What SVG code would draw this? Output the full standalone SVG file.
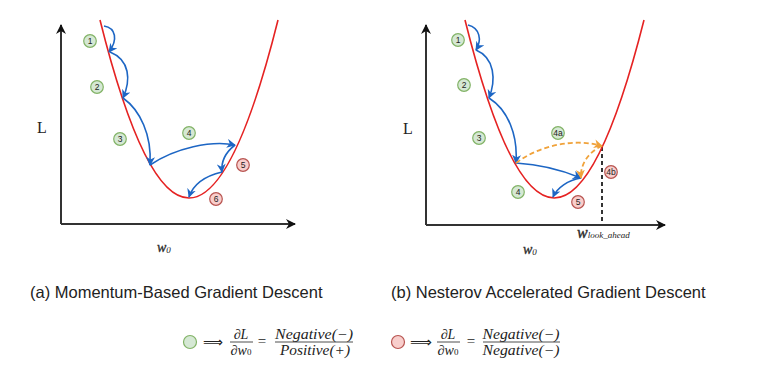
<svg xmlns="http://www.w3.org/2000/svg" width="758" height="366" viewBox="0 0 758 366">
<style>
.axis{fill:none;stroke:#333;stroke-width:2}
.curve{fill:none;stroke:#e52222;stroke-width:1.6}
.blue{fill:none;stroke:#1d66c4;stroke-width:1.6}
.orange{fill:none;stroke:#f0a23a;stroke-width:1.8;stroke-dasharray:5,3}
.g{fill:#d5e8d4;stroke:#82b366;stroke-width:1.2}
.r{fill:#f8cecc;stroke:#b85450;stroke-width:1.2}
.lbl{font-family:"Liberation Sans",Arial,sans-serif;font-size:8.5px;fill:#222;text-anchor:middle}
.serif{font-family:"Liberation Serif","Times New Roman",serif;fill:#222}
.cap{font-family:"Liberation Sans",Arial,sans-serif;font-size:16.5px;fill:#222}
.math{font-family:"Liberation Serif","Times New Roman",serif;font-style:italic;font-size:14px;fill:#222;text-anchor:middle}
</style>
<defs>
<marker id="ax" viewBox="0 0 10 10" refX="9" refY="5" markerWidth="10" markerHeight="10" markerUnits="userSpaceOnUse" orient="auto">
<path d="M0,0 L10,5 L0,10 L3,5 z" fill="#111"/>
</marker>
<marker id="ab" viewBox="0 0 10 10" refX="9" refY="5" markerWidth="9" markerHeight="9" markerUnits="userSpaceOnUse" orient="auto">
<path d="M0,0 L10,5 L0,10 L3,5 z" fill="#1d66c4"/>
</marker>
<marker id="ao" viewBox="0 0 10 10" refX="9" refY="5" markerWidth="9" markerHeight="9" markerUnits="userSpaceOnUse" orient="auto">
<path d="M0,0 L10,5 L0,10 L3,5 z" fill="#f0a23a"/>
</marker>
</defs>

<g id="panel-a">
<g id="axes-a">
<path class="axis" d="M61,224 L61,25" marker-end="url(#ax)"/>
<path class="axis" d="M61,224 L295,224" marker-end="url(#ax)"/>
<text class="serif" x="42" y="133" font-size="16" text-anchor="middle">L</text>
<text class="serif" x="157" y="252" font-size="14" font-style="italic" fill="#333" stroke="#333" stroke-width="0.3">w<tspan font-size="9" dy="1" stroke-width="0">0</tspan></text>
</g>
<path id="loss-a" class="curve" d="M100,20 Q189,376 278,20"/>
<g id="conn-a">
<path class="blue" d="M104,26 C116,28 118,40 109,52" marker-end="url(#ab)"/>
<path class="blue" d="M110,52 C130,60 131,80 123,98" marker-end="url(#ab)"/>
<path class="blue" d="M123,98 C140,110 152,135 150,165" marker-end="url(#ab)"/>
<path class="blue" d="M150,165 C175,148 212,140 235,145" marker-end="url(#ab)"/>
<path class="blue" d="M235,145 C226,152 221,162 222,172" marker-end="url(#ab)"/>
<path class="blue" d="M222,172 C205,176 193,185 189,197" marker-end="url(#ab)"/>
</g>
<g id="a1"><circle class="g" cx="90" cy="41" r="6.3"/><text class="lbl" x="90" y="44">1</text></g>
<g id="a2"><circle class="g" cx="97" cy="87" r="6.3"/><text class="lbl" x="97" y="90">2</text></g>
<g id="a3"><circle class="g" cx="120" cy="139" r="6.3"/><text class="lbl" x="120" y="142">3</text></g>
<g id="a4"><circle class="g" cx="189" cy="133" r="6.3"/><text class="lbl" x="189" y="136">4</text></g>
<g id="a5"><circle class="r" cx="243" cy="165" r="6.3"/><text class="lbl" x="243" y="168">5</text></g>
<g id="a6"><circle class="r" cx="216" cy="199" r="6.3"/><text class="lbl" x="216" y="202">6</text></g>
</g>

<g id="panel-b">
<g id="axes-b">
<path class="axis" d="M426,225 L426,25" marker-end="url(#ax)"/>
<path class="axis" d="M426,225 L665,225" marker-end="url(#ax)"/>
<path d="M602,147 L602,224" fill="none" stroke="#333" stroke-width="2" stroke-dasharray="4,3"/>
<text class="serif" x="408" y="134" font-size="16" text-anchor="middle">L</text>
<text class="serif" x="523" y="254" font-size="14" font-style="italic" fill="#333" stroke="#333" stroke-width="0.3">w<tspan font-size="9" dy="1" stroke-width="0">0</tspan></text>
<text class="serif" x="577" y="238" font-size="16" font-style="italic" fill="#333" stroke="#333" stroke-width="0.4">w<tspan font-size="9" stroke-width="0">look_ahead</tspan></text>
</g>
<path id="loss-b" class="curve" d="M465,20 Q554,376 644,20"/>
<g id="conn-b">
<path class="blue" d="M468,25 C480,28 482,40 476,50" marker-end="url(#ab)"/>
<path class="blue" d="M476,50 C495,58 496,80 489,98" marker-end="url(#ab)"/>
<path class="blue" d="M489,98 C508,110 518,135 516,163" marker-end="url(#ab)"/>
<path class="blue" d="M516,163 Q550,165 581,178" marker-end="url(#ab)"/>
<path class="blue" d="M581,178 C568,180 557,188 553,197" marker-end="url(#ab)"/>
<path class="orange" d="M516,163 C540,145 575,138 602,146" marker-end="url(#ao)"/>
<path class="orange" d="M602,146 C588,152 580,165 581,178" marker-end="url(#ao)"/>
</g>
<g id="b1"><circle class="g" cx="458" cy="40" r="6.3"/><text class="lbl" x="458" y="43">1</text></g>
<g id="b2"><circle class="g" cx="464" cy="85" r="6.3"/><text class="lbl" x="464" y="88">2</text></g>
<g id="b3"><circle class="g" cx="479" cy="138" r="6.3"/><text class="lbl" x="479" y="141">3</text></g>
<g id="b4a"><circle class="g" cx="558" cy="133" r="6.3"/><text class="lbl" x="558" y="136">4a</text></g>
<g id="b4"><circle class="g" cx="518" cy="192" r="6.3"/><text class="lbl" x="518" y="195">4</text></g>
<g id="b5"><circle class="r" cx="578" cy="202" r="6.3"/><text class="lbl" x="578" y="205">5</text></g>
<g id="b4b"><circle class="r" cx="611" cy="172" r="6.3"/><text class="lbl" x="611" y="175">4b</text></g>
</g>

<text class="cap" x="30" y="298">(a) Momentum-Based Gradient Descent</text>
<text class="cap" x="391" y="298">(b) Nesterov Accelerated Gradient Descent</text>

<g id="legend-green">
<circle class="g" cx="190" cy="342" r="6.5"/>
<text x="213" y="347" font-family="DejaVu Sans,sans-serif" font-size="14" fill="#222" text-anchor="middle" textLength="20" lengthAdjust="spacingAndGlyphs">⟹</text>
<text class="math" x="241" y="339">∂L</text>
<line x1="230" y1="342" x2="253" y2="342" stroke="#222" stroke-width="0.8"/>
<text class="math" x="241" y="355">∂w<tspan font-size="9" font-style="normal">0</tspan></text>
<text x="262" y="346" font-family="Liberation Serif,serif" font-size="15" fill="#222" text-anchor="middle">=</text>
<text class="math" x="314" y="339" textLength="78" lengthAdjust="spacingAndGlyphs">Negative(−)</text>
<line x1="275" y1="342" x2="353" y2="342" stroke="#222" stroke-width="0.8"/>
<text class="math" x="315" y="355" textLength="70" lengthAdjust="spacingAndGlyphs">Positive(+)</text>
</g>
<g id="legend-red">
<circle class="r" cx="398" cy="342" r="6.5"/>
<text x="421" y="347" font-family="DejaVu Sans,sans-serif" font-size="14" fill="#222" text-anchor="middle" textLength="22" lengthAdjust="spacingAndGlyphs">⟹</text>
<text class="math" x="448" y="339">∂L</text>
<line x1="437" y1="342" x2="460" y2="342" stroke="#222" stroke-width="0.8"/>
<text class="math" x="448" y="355">∂w<tspan font-size="9" font-style="normal">0</tspan></text>
<text x="471" y="346" font-family="Liberation Serif,serif" font-size="15" fill="#222" text-anchor="middle">=</text>
<text class="math" x="521" y="339" textLength="77" lengthAdjust="spacingAndGlyphs">Negative(−)</text>
<line x1="483" y1="342" x2="560" y2="342" stroke="#222" stroke-width="0.8"/>
<text class="math" x="521" y="355" textLength="77" lengthAdjust="spacingAndGlyphs">Negative(−)</text>
</g>
</svg>
